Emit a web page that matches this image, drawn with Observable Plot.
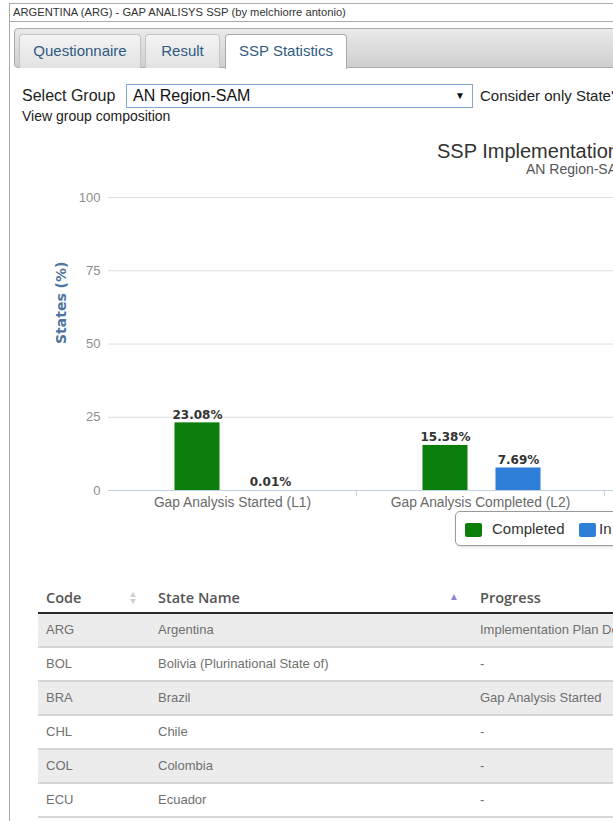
<!DOCTYPE html>
<html><head><meta charset="utf-8">
<script src="https://cdn.jsdelivr.net/npm/d3@7"></script>
<script src="https://cdn.jsdelivr.net/npm/@observablehq/plot@0.6"></script>
<style>
html,body{margin:0;padding:0;background:#fff;}
body{width:613px;height:821px;overflow:hidden;position:relative;font-family:"Liberation Sans",Arial,sans-serif;color:#222;}
.abs{position:absolute;white-space:nowrap;}
.tab{position:absolute;top:34px;height:34px;box-sizing:border-box;border:1px solid #c4c4c4;border-bottom:none;border-radius:4px 4px 0 0;background:linear-gradient(#f4f4f4,#e2e2e2);font-size:15px;line-height:32px;text-align:center;color:#2f5b82;}
.tab.active{background:#fff;border-color:#aaa;height:35px;color:#2f5b82;}
#chartwrap{position:absolute;left:0;top:180px;width:613px;height:340px;overflow:hidden;}
#chartwrap svg{max-width:none !important;width:760px !important;height:340px !important;background:transparent !important;}
#legend{position:absolute;left:455px;top:511px;width:400px;height:35px;box-sizing:border-box;border:1px solid #9a9a9a;border-radius:5px;background:#fff;box-shadow:1px 1px 3px rgba(0,0,0,0.15);font-size:15px;color:#333;}
#legend .sw{position:absolute;top:11px;width:17px;height:14px;border-radius:2px;}
#legend .lt{position:absolute;top:0;line-height:33px;}
#table{position:absolute;left:38px;top:584px;width:600px;}
.th{position:absolute;top:0;height:28px;line-height:28px;font-family:"Open Sans",sans-serif;font-weight:600;font-size:14.5px;color:#555;white-space:nowrap;}
.tri{position:absolute;width:0;height:0;border-left:3.5px solid transparent;border-right:3.5px solid transparent;}
.row{position:absolute;left:0;width:600px;height:32px;border-bottom:2px solid #d6d6d6;}
.td{position:absolute;top:0;line-height:32px;font-size:13px;color:#707070;white-space:nowrap;}
</style></head><body>
<script>
// ---- data ----
const categories = ["Gap Analysis Started (L1)", "Gap Analysis Completed (L2)"];
const seriesNames = ["Completed", "In Progress"];
const completedValues = [23.08, 15.38];
const inProgressValues = [0.01, 7.69];
const seriesColors = ["#0b7d0b", "#2f7ed8"];
const yTicks = [0, 25, 50, 75, 100];
const yTitle = "States (%)";
const chartTitle = "SSP Implementation";
const chartSubtitle = "AN Region-SAM";
const tabs = ["Questionnaire", "Result", "SSP Statistics"];
const tableHeaders = ["Code", "State Name", "Progress"];
const stateCodes = ["ARG", "BOL", "BRA", "CHL", "COL", "ECU"];
const stateNames = ["Argentina", "Bolivia (Plurinational State of)", "Brazil", "Chile", "Colombia", "Ecuador"];
const stateProgress = ["Implementation Plan Developed", "-", "Gap Analysis Started", "-", "-", "-"];

const body = document.body;
function el(tag, cls, style, text) {
  const e = document.createElement(tag);
  if (cls) e.className = cls;
  if (style) e.style.cssText = style;
  if (text != null) e.textContent = text;
  return e;
}

// header box
body.appendChild(el("div", "abs", "left:9px;top:3px;width:700px;height:19px;box-sizing:border-box;border:1px solid #aaa;border-right:none;font-size:11.2px;line-height:17px;padding-left:3px;color:#333;", "ARGENTINA (ARG) - GAP ANALISYS SSP (by melchiorre antonio)"));
// panel left border
body.appendChild(el("div", "abs", "left:9px;top:22px;width:1px;height:800px;background:#aaa;"));
// tab bar
body.appendChild(el("div", "abs", "left:14px;top:28px;width:700px;height:40px;box-sizing:border-box;border:1px solid #aaa;border-radius:4px 0 0 4px;background:linear-gradient(#eaeaea,#cfcfcf);"));
const tabPos = [[19, 122], [145, 75], [225, 122]];
tabs.forEach((t, i) => {
  const d = el("div", "tab" + (i === 2 ? " active" : ""), `left:${tabPos[i][0]}px;width:${tabPos[i][1]}px;`, t);
  body.appendChild(d);
});
// select group row
body.appendChild(el("div", "abs", "left:22px;top:87px;font-size:16px;line-height:18px;color:#222;", "Select Group"));
const sel = el("div", "abs", "left:126px;top:84px;width:347px;height:24px;box-sizing:border-box;border:1px solid #86a6d6;background:#fff;font-size:16px;line-height:22px;padding-left:6px;color:#111;", "AN Region-SAM");
sel.appendChild(el("span", "", "position:absolute;right:7px;top:0;font-size:10px;line-height:22px;color:#111;", "▼"));
body.appendChild(sel);
body.appendChild(el("div", "abs", "left:480px;top:87px;font-size:15px;line-height:18px;color:#222;", "Consider only State's"));
body.appendChild(el("div", "abs", "left:22px;top:107px;font-size:14px;line-height:18px;color:#222;", "View group composition"));

// chart title / subtitle
body.appendChild(el("div", "abs", "left:437px;top:142px;font-size:20px;line-height:18px;color:#333;", chartTitle));
body.appendChild(el("div", "abs", "left:526px;top:162px;font-size:14px;line-height:14px;color:#555;", chartSubtitle));

// ---- chart ----
const rows = categories.flatMap((c, i) => [
  {cat: c, series: seriesNames[0], value: completedValues[i]},
  {cat: c, series: seriesNames[1], value: inProgressValues[i]}
]);
const comp = rows.filter(d => d.series === seriesNames[0]);
const prog = rows.filter(d => d.series === seriesNames[1]);
const fmt = d => d.value.toFixed(2) + "%";
const barInset = 101.5;
const labelStyle = {fontFamily: "DejaVu Sans", fontWeight: "bold", fontSize: 12, fill: "#333", dy: -8};

const chart = Plot.plot({
  width: 760,
  height: 340,
  marginLeft: 108,
  marginRight: 0,
  marginTop: 17,
  marginBottom: 30,
  style: {fontFamily: "Liberation Sans, Arial, sans-serif", background: "transparent", overflow: "visible", maxWidth: "none"},
  x: {domain: categories, range: [108, 604], padding: 0, label: null},
  y: {domain: [0, 100], label: null},
  marks: [
    Plot.gridY(yTicks, {stroke: "#dcdcdc", strokeOpacity: 1}),
    Plot.axisY(yTicks, {tickSize: 0, tickPadding: 8, fontSize: 13, fill: "#8e8e8e", label: null}),
    Plot.ruleY([0], {stroke: "#c0d0e0", strokeWidth: 1.2}),
    Plot.axisX(categories, {tickSize: 6, tickFormat: () => "", dx: 124, stroke: "#c0d0e0", label: null}),
    Plot.axisX(categories, {tickSize: 0, tickPadding: 7, fontSize: 13.8, fill: "#6a6a6a", label: null}),
    Plot.barY(comp, {x: "cat", y: "value", fill: seriesColors[0], insetLeft: barInset, insetRight: barInset, dx: -35}),
    Plot.barY(prog, {x: "cat", y: "value", fill: seriesColors[1], insetLeft: barInset, insetRight: barInset, dx: 38}),
    Plot.text(comp, {x: "cat", y: "value", text: fmt, dx: -35, ...labelStyle}),
    Plot.text(prog, {x: "cat", y: "value", text: fmt, dx: 38, ...labelStyle}),
    Plot.text([yTitle], {frameAnchor: "left", rotate: -90, dx: -47, fill: "#4d759e", fontSize: 14, fontWeight: "bold", fontFamily: "DejaVu Sans"})
  ]
});
const wrap = el("div", "", "");
wrap.id = "chartwrap";
wrap.appendChild(chart);
body.appendChild(wrap);

// legend
const legend = el("div", "", "");
legend.id = "legend";
const legendX = [[9, 36], [123, 143]];
seriesNames.forEach((s, i) => {
  legend.appendChild(el("div", "sw", `left:${legendX[i][0]}px;background:${seriesColors[i]};`));
  legend.appendChild(el("div", "lt", `left:${legendX[i][1]}px;`, s));
});
body.appendChild(legend);

// table
const table = el("div", "", "");
table.id = "table";
const thX = [8, 120, 442];
tableHeaders.forEach((h, i) => table.appendChild(el("div", "th", `left:${thX[i]}px;`, h)));
// sort icons as CSS triangles
table.appendChild(el("div", "tri", "left:92px;top:8px;border-bottom:5px solid #d0d0d0;"));
table.appendChild(el("div", "tri", "left:92px;top:15px;border-top:5px solid #d0d0d0;"));
table.appendChild(el("div", "tri", "left:413px;top:10px;border-bottom:6px solid #8c86d8;"));
table.appendChild(el("div", "", "position:absolute;left:0;top:28px;width:600px;height:2px;background:#2a2a2a;"));
stateCodes.forEach((c, i) => {
  const r = el("div", "row", `top:${30 + i * 34}px;background:${i % 2 === 0 ? "#ececec" : "#fff"};`);
  r.appendChild(el("div", "td", "left:8px;", c));
  r.appendChild(el("div", "td", "left:120px;", stateNames[i]));
  r.appendChild(el("div", "td", "left:442px;", stateProgress[i]));
  table.appendChild(r);
});
body.appendChild(table);
</script>
</body></html>
